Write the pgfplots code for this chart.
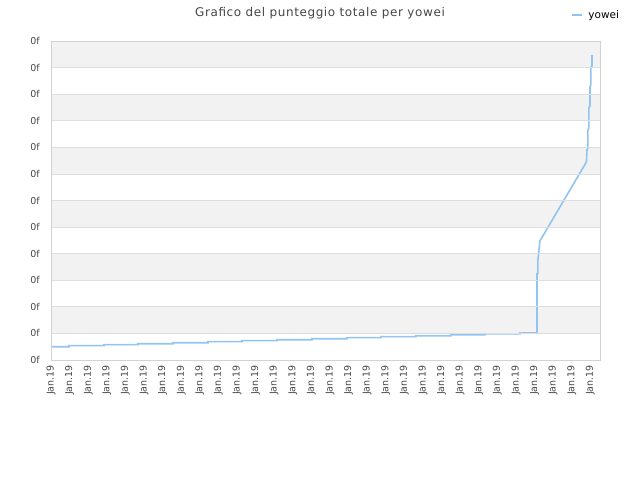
\documentclass[border=0pt]{standalone}
\usepackage{fontspec}
\setmainfont{DejaVu Sans}
\usepackage{pgfplots}
\pgfplotsset{compat=1.18}
\definecolor{linecol}{RGB}{145,196,242}
\definecolor{bandcol}{RGB}{242,242,242}
\definecolor{gridcol}{RGB}{222,222,222}
\definecolor{framecol}{RGB}{210,210,210}
\definecolor{txtcol}{RGB}{70,70,70}
\begin{document}
\begin{tikzpicture}
\path (0pt,0pt) rectangle (640pt,480pt);
\node[text=txtcol, font=\fontsize{12}{14}\selectfont\addfontfeature{LetterSpace=5}] at (320pt,467pt) {Grafico del punteggio totale per yowei};
\begin{axis}[
  at={(51pt,120pt)}, anchor=south west,
  scale only axis, width=549pt, height=319pt,
  axis on top,
  xmin=0, xmax=29.52, ymin=0, ymax=12,
  xtick={0,...,29}, ytick={0,...,12},
  xticklabel={\mbox{Jan.19}}, yticklabel={\mbox{0f}},
  x tick label style={rotate=90, anchor=east, font=\fontsize{9.5}{11}\selectfont, text=txtcol, inner sep=1pt},
  y tick label style={font=\fontsize{9.5}{11}\selectfont, text=txtcol, inner sep=1pt},
  xticklabel shift=4pt, yticklabel shift=10pt,
  major tick length=0pt,
  ymajorgrids, grid style={gridcol, line width=0.8pt},
  axis line style={framecol, line width=0.9pt},
  legend style={at={(0.941,1.081)}, anchor=west, draw=none, fill=none,
    font=\fontsize{10.5}{12}\selectfont,
    /tikz/every odd column/.append style={column sep=4pt}},
  legend image code/.code={\draw[#1] (0pt,0pt) -- (10pt,0pt);},
]
\fill[bandcol] (axis cs:0,1) rectangle (axis cs:29.52,2);
\fill[bandcol] (axis cs:0,3) rectangle (axis cs:29.52,4);
\fill[bandcol] (axis cs:0,5) rectangle (axis cs:29.52,6);
\fill[bandcol] (axis cs:0,7) rectangle (axis cs:29.52,8);
\fill[bandcol] (axis cs:0,9) rectangle (axis cs:29.52,10);
\fill[bandcol] (axis cs:0,11) rectangle (axis cs:29.52,12);
\addplot[linecol, line width=1.6pt] coordinates {
(0,0) (0,0.50) (0.97,0.50) (0.97,0.54) (2.85,0.54) (2.85,0.58)
(4.68,0.58) (4.68,0.61) (6.56,0.61) (6.56,0.65) (8.44,0.65) (8.44,0.69)
(10.27,0.69) (10.27,0.73) (12.15,0.73) (12.15,0.76) (14.03,0.76) (14.03,0.80)
(15.91,0.80) (15.91,0.84) (17.74,0.84) (17.74,0.88) (19.62,0.88) (19.62,0.91)
(21.50,0.91) (21.50,0.95) (23.33,0.95) (23.33,0.98) (25.22,0.98) (25.22,1.02)
(26.13,1.02) (26.13,3.24) (26.18,3.24) (26.18,3.76) (26.24,4.14) (26.29,4.48)
(28.79,7.45) (28.82,7.90) (28.87,7.98) (28.87,8.65) (28.92,8.73) (28.92,9.48)
(28.98,9.56) (28.98,10.27) (29.03,10.35) (29.03,11.02) (29.09,11.06) (29.09,11.47)
};
\addlegendentry{yowei}
\end{axis}
\end{tikzpicture}
\end{document}
